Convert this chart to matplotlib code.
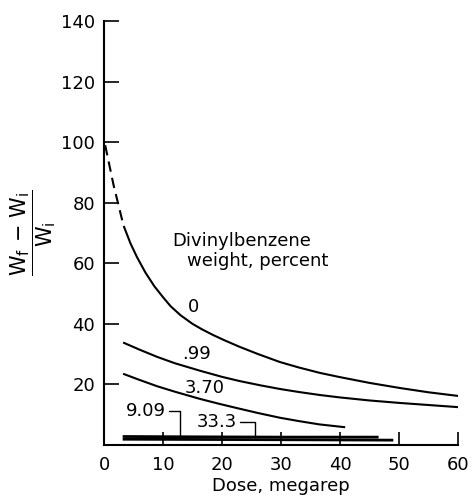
import matplotlib
matplotlib.use("Agg")
import matplotlib.pyplot as plt

plt.rcParams["font.family"] = "DejaVu Sans"
plt.rcParams["mathtext.fontset"] = "dejavusans"

# curve readings (dose in megarep, (Wf - Wi)/Wi)
dose_0_dash = [0.2, 1.6, 3.3]
gain_0_dash = [99, 86, 72.5]
dose_0 = [3.4, 4.5, 5.6, 7, 8.5, 10, 11.3, 13, 15, 16.6, 18.5, 20.5, 23, 26,
          29.8, 33, 36.6, 40, 45, 50.2, 55, 60]
gain_0 = [72, 66.5, 62, 57, 52.5, 48.8, 45.8, 42.8, 40, 38.2, 36.3, 34.5, 32.4, 30.1,
          27.4, 25.6, 23.8, 22.4, 20.5, 18.8, 17.4, 16.2]
dose_099 = [3.4, 6, 9, 12, 16.3, 20, 23, 26.5, 29.8, 33, 36.6, 40, 45, 50, 55, 60]
gain_099 = [33.7, 31.5, 29.1, 27.0, 24.5, 22.5, 21.1, 19.7, 18.5, 17.5, 16.5, 15.7,
            14.7, 13.9, 13.2, 12.5]
dose_370 = [3.4, 6, 9, 12, 16.3, 19.5, 22.5, 26, 29.8, 33, 36.5, 40.7]
gain_370 = [23.4, 21.5, 19.4, 17.6, 15.2, 13.6, 12.2, 10.6, 9.0, 7.9, 6.8, 5.9]
dose_909 = [3.4, 15, 30, 46.3]
gain_909 = [2.8, 2.7, 2.6, 2.6]
dose_333 = [3.4, 20, 35, 48.8]
gain_333 = [1.9, 1.8, 1.7, 1.6]

x_ticks = [0, 10, 20, 30, 40, 50, 60]
y_ticks = [20, 40, 60, 80, 100, 120, 140]

fig = plt.figure(figsize=(4.76, 5.01), dpi=100)
ax = fig.add_axes([0.2185, 0.1118, 0.7437, 0.8463])

lw = 1.5
ax.plot(dose_0_dash, gain_0_dash, color="black", lw=lw, linestyle=(0, (5, 3)))
ax.plot(dose_0, gain_0, color="black", lw=lw)
ax.plot(dose_099, gain_099, color="black", lw=lw)
ax.plot(dose_370, gain_370, color="black", lw=lw)
ax.plot(dose_909, gain_909, color="black", lw=2.0)
ax.plot(dose_333, gain_333, color="black", lw=2.0)

fs = 13
ax.text(15.1, 45.5, "0", fontsize=fs, ha="center", va="center")
ax.text(15.6, 30, ".99", fontsize=fs, ha="center", va="center")
ax.text(17.1, 18.8, "3.70", fontsize=fs, ha="center", va="center")
ax.annotate("9.09", xy=(12.9, 2.8), xytext=(7.1, 11.3), fontsize=fs,
            ha="center", va="center",
            arrowprops=dict(arrowstyle="-", lw=1.0, shrinkA=0, shrinkB=0,
                            connectionstyle="angle,angleA=0,angleB=90,rad=0"))
ax.annotate("33.3", xy=(25.6, 2.6), xytext=(19.1, 7.5), fontsize=fs,
            ha="center", va="center",
            arrowprops=dict(arrowstyle="-", lw=1.0, shrinkA=0, shrinkB=0,
                            connectionstyle="angle,angleA=0,angleB=90,rad=0"))
ax.text(11.5, 67.5, "Divinylbenzene", fontsize=fs, ha="left", va="center")
ax.text(14.1, 60.6, "weight, percent", fontsize=fs, ha="left", va="center")

ax.set_xlim(0, 60)
ax.set_ylim(0, 140)
ax.set_xticks(x_ticks)
ax.set_yticks(y_ticks)
ax.tick_params(axis="x", direction="in", length=9.4, width=1.2, pad=8, labelsize=fs)
ax.tick_params(axis="y", direction="in", length=10.8, width=1.2, pad=6.5, labelsize=fs)
ax.spines["top"].set_visible(False)
ax.spines["right"].set_visible(False)
ax.spines["left"].set_linewidth(1.5)
ax.spines["bottom"].set_linewidth(1.5)

ax.set_xlabel("Dose, megarep", fontsize=fs, labelpad=2)
ax.set_ylabel(r"$\dfrac{\mathrm{W}_\mathrm{f}\,-\,\mathrm{W}_\mathrm{i}}{\mathrm{W}_\mathrm{i}}$",
              fontsize=15, labelpad=2)

fig.savefig("out.png", dpi=100)
